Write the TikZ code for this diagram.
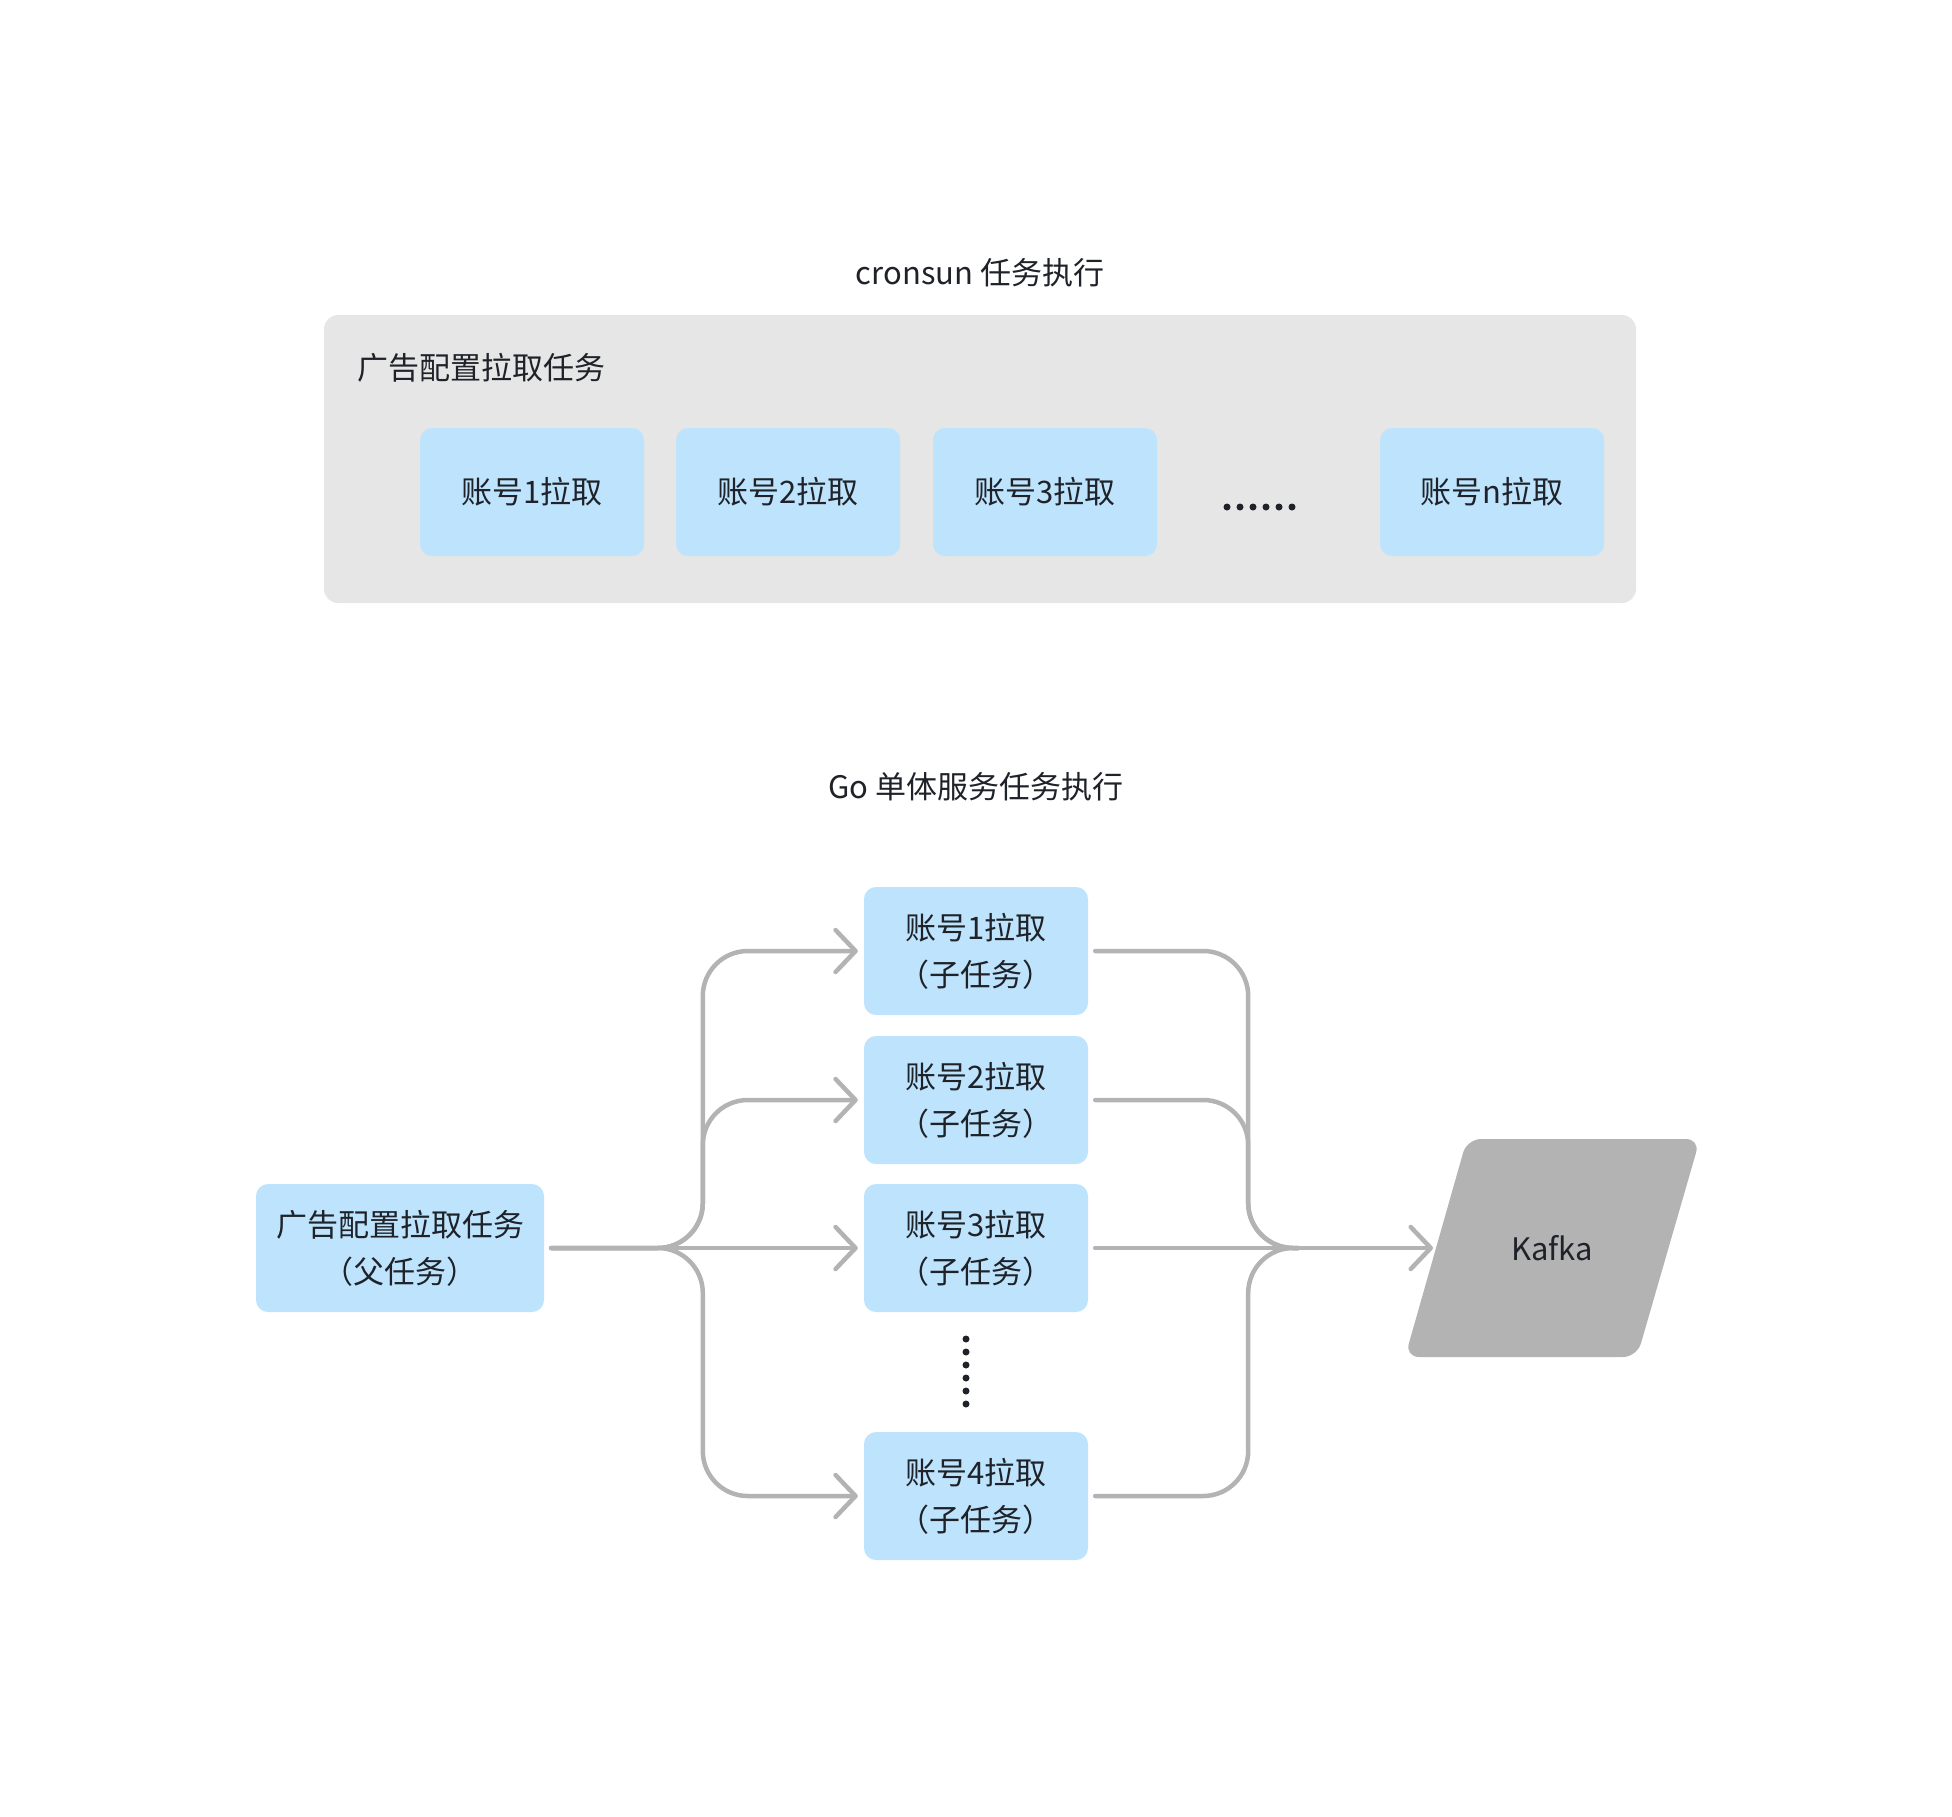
\documentclass[tikz,border=0pt]{standalone}
\usepackage{fontspec}
\setmainfont{Noto Sans CJK SC}
\usetikzlibrary{arrows.meta}
\definecolor{boxblue}{HTML}{BEE3FC}
\definecolor{panelgray}{HTML}{E6E6E6}
\definecolor{linegray}{HTML}{B3B3B3}
\definecolor{inkdark}{HTML}{1F2329}
\begin{document}
\begin{tikzpicture}[x=1pt,y=-1pt,
  every node/.style={text=inkdark, font=\fontsize{31pt}{47pt}\selectfont, inner sep=0pt},
  bluebox/.style={fill=boxblue, rounded corners=12pt, minimum width=224pt, minimum height=128pt, align=center},
  panel/.style={fill=panelgray, rounded corners=14pt, minimum width=1312pt, minimum height=288pt},
  conn/.style={draw=linegray, line width=4.5pt, line cap=round, line join=round, rounded corners=45pt},
  arrowtip/.style={-{Straight Barb[length=20pt,width=42pt,round]}},
  dotmark/.style={circle, fill=inkdark, minimum size=7pt, inner sep=0pt}
]
\useasboundingbox (0,0) rectangle (1952,1816);

% ---- top section ----
\node (t1) at (980,273) {cronsun 任务执行};
\node[panel] (outer) at (980,459) {};
\node[anchor=west] (outerlabel) at (357,368) {广告配置拉取任务};
\node[bluebox] (a1) at (532,492) {账号1拉取};
\node[bluebox] (a2) at (788,492) {账号2拉取};
\node[bluebox] (a3) at (1045,492) {账号3拉取};
\node[bluebox] (an) at (1492,492) {账号n拉取};
\foreach \i in {0,...,5} \node[dotmark] (h\i) at (1227+13*\i,507) {};

% ---- bottom section ----
\node (t2) at (976,787) {Go 单体服务任务执行};
\node[bluebox, minimum width=288pt] (p) at (400,1248) {广告配置拉取任务\\（父任务）};
\node[bluebox] (c1) at (976,951) {账号1拉取\\（子任务）};
\node[bluebox] (c2) at (976,1100) {账号2拉取\\（子任务）};
\node[bluebox] (c3) at (976,1248) {账号3拉取\\（子任务）};
\node[bluebox] (c4) at (976,1496) {账号4拉取\\（子任务）};
\foreach \i in {0,...,5} \node[dotmark] (v\i) at (966,1339+13*\i) {};

\fill[linegray, rounded corners=14pt] (1405,1357) -- (1467,1139) -- (1700,1139) -- (1637,1357) -- cycle;
\node (kafka) at (1552,1248) {Kafka};
\coordinate (kin) at (1433,1248);

% connectors left
\draw[conn, arrowtip] ([xshift=7pt]p.east) -- ([xshift=-6pt]c3.west);
\draw[conn, arrowtip] ([xshift=7pt]p.east) -| ([xshift=-161pt]c1.west) -- ([xshift=-6pt]c1.west);
\draw[conn, arrowtip] ([xshift=7pt]p.east) -| ([xshift=-161pt]c2.west) -- ([xshift=-6pt]c2.west);
\draw[conn, arrowtip] ([xshift=7pt]p.east) -| ([xshift=-161pt]c4.west) -- ([xshift=-6pt]c4.west);

% connectors right
\draw[conn] ([xshift=7pt]c1.east) -| ([xshift=160pt]c3.east) -- ([xshift=210pt]c3.east);
\draw[conn] ([xshift=7pt]c2.east) -| ([xshift=160pt]c3.east) -- ([xshift=210pt]c3.east);
\draw[conn] ([xshift=7pt]c4.east) -| ([xshift=160pt]c3.east) -- ([xshift=210pt]c3.east);
\draw[conn, arrowtip] ([xshift=7pt]c3.east) -- (kin);
\end{tikzpicture}
\end{document}
